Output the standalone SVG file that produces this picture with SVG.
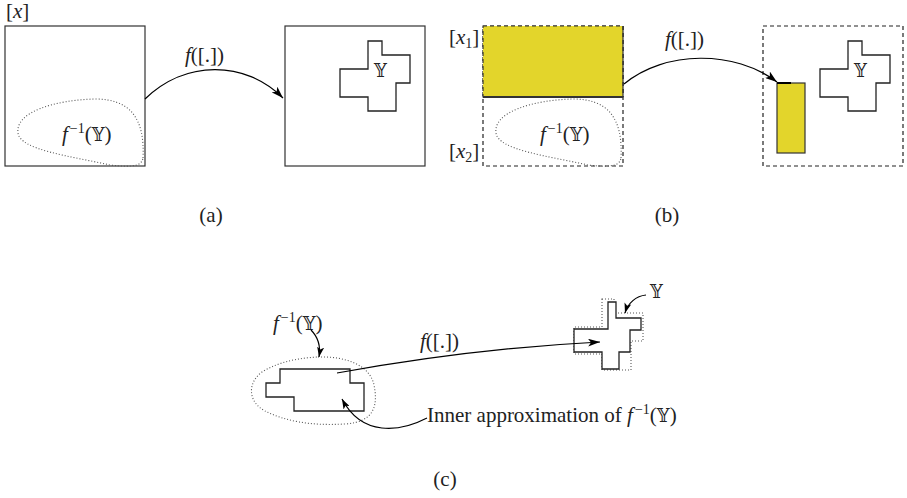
<svg xmlns="http://www.w3.org/2000/svg" width="907" height="498" viewBox="0 0 907 498">
<defs>
<marker id="ah" viewBox="0 0 12 8" refX="12" refY="4" markerWidth="12" markerHeight="8" markerUnits="userSpaceOnUse" orient="auto">
<path d="M0,0 L12,4 L0,8 L3,4 Z" fill="#000"/>
</marker>
<marker id="ahs" viewBox="0 0 10 7" refX="10" refY="3.5" markerWidth="10" markerHeight="7" markerUnits="userSpaceOnUse" orient="auto">
<path d="M0,0 L10,3.5 L0,7 L2.5,3.5 Z" fill="#000"/>
</marker>
</defs>
<style>
text{font-family:"Liberation Serif","DejaVu Serif",serif;font-size:21px;fill:#222}
.it{font-style:italic}
.sup{font-size:14px}
.sub{font-size:14px}
.dbl{font-family:"DejaVu Serif","DejaVu Sans",serif;font-size:18px}
.box{fill:none;stroke:#333;stroke-width:1.2}
.dash{fill:none;stroke:#222;stroke-width:1.2;stroke-dasharray:4 3}
.dot{fill:none;stroke:#555;stroke-width:1.1;stroke-dasharray:1 2}
.shape{fill:#fff;stroke:#222;stroke-width:1.3}
.yel{fill:#E3D52B;stroke:#333;stroke-width:1.2}
.conn{fill:none;stroke:#000;stroke-width:1.2}
</style>
<rect width="907" height="498" fill="#fff"/>

<!-- Panel (a) -->
<g id="a-box-x">
<text x="6" y="18">[<tspan class="it">x</tspan>]</text>
<rect class="box" x="5" y="26" width="140" height="140"/>
<path class="dot" d="M143,158 C145,118 130,99 95,99 C55,100 15,112 18,133 C20,150 70,156 110,165 C135,168 142,165 143,158 Z"/>
<text x="62" y="141"><tspan class="it">f</tspan><tspan class="sup" dx="2" dy="-8">−1</tspan><tspan dy="8">(</tspan><tspan class="dbl">𝕐</tspan>)</text>
</g>
<g id="a-box-y">
<rect class="box" x="285" y="26" width="140" height="140"/>
<polygon class="shape" points="368,41 382,41 382,55 410,55 410,83 396,83 396,111 368,111 368,97 340,97 340,69 368,69"/>
<text class="dbl" x="374" y="77">𝕐</text>
</g>
<g id="a-label"><text x="211" y="222" text-anchor="middle">(a)</text></g>

<!-- Panel (b) -->
<g id="b-box-x">
<rect class="dash" x="483" y="26" width="140" height="140"/>
<rect class="yel" x="483" y="26" width="140" height="71" stroke-dasharray="4 3"/>
<line x1="483" y1="97" x2="623" y2="97" stroke="#333" stroke-width="2"/>
<line x1="623" y1="26" x2="623" y2="97" stroke="#333" stroke-width="1.2"/>
<text x="449" y="44">[<tspan class="it">x</tspan><tspan class="sub" dy="4">1</tspan><tspan dy="-4">]</tspan></text>
<text x="449" y="158">[<tspan class="it">x</tspan><tspan class="sub" dy="4">2</tspan><tspan dy="-4">]</tspan></text>
<path class="dot" d="M621,158 C623,118 608,99 573,99 C533,100 493,112 496,133 C498,150 548,156 588,165 C613,168 620,165 621,158 Z"/>
<text x="540" y="141"><tspan class="it">f</tspan><tspan class="sup" dx="2" dy="-8">−1</tspan><tspan dy="8">(</tspan><tspan class="dbl">𝕐</tspan>)</text>
</g>
<g id="b-box-y">
<rect class="dash" x="763" y="26" width="140" height="140"/>
<rect class="yel" x="777" y="83" width="28" height="70"/>
<line x1="777" y1="83" x2="791" y2="83" stroke="#000" stroke-width="2"/>
<polygon class="shape" points="848,41 862,41 862,55 890,55 890,83 876,83 876,111 848,111 848,97 820,97 820,69 848,69"/>
<text class="dbl" x="854" y="77">𝕐</text>
</g>
<g id="b-label"><text x="667" y="222" text-anchor="middle">(b)</text></g>

<!-- Panel (c) -->
<g id="c-preimage">
<path class="dot" d="M318,357 C345,356 370,365 374,385 C378,405 375,422 345,424 C310,426 285,421 265,411 C248,402 247,383 262,372 C280,361 300,358 318,357 Z"/>
<polygon class="shape" points="280,369 350,369 350,383 364,383 364,411 294,411 294,397 266,397 266,383 280,383"/>
<text x="273" y="330"><tspan class="it">f</tspan><tspan class="sup" dx="2" dy="-8">−1</tspan><tspan dy="8">(</tspan><tspan class="dbl">𝕐</tspan>)</text>
</g>
<g id="c-image">
<polygon class="dot" points="602,299 614,299 614,313 643,313 643,341 631,341 631,370 602,370 602,354 574,354 574,327 602,327"/>
<polygon class="shape" fill="none" points="608,302 616,302 616,318 641,318 641,330 630,330 630,352 619,352 619,369 602,369 602,352 574,352 574,329 608,329"/>
<text class="dbl" x="650" y="298">𝕐</text>
</g>
<g id="c-inner-label">
<text x="427" y="422">Inner approximation of <tspan class="it">f</tspan><tspan class="sup" dx="2" dy="-8">−1</tspan><tspan dy="8">(</tspan><tspan class="dbl">𝕐</tspan>)</text>
</g>
<g id="c-label"><text x="445" y="486" text-anchor="middle">(c)</text></g>

<!-- Connectors -->
<g id="connectors">
<path class="conn" d="M145,99 C185,60 245,60 283,98" marker-end="url(#ah)"/>
<text x="185" y="62"><tspan class="it">f</tspan>([.])</text>
<path class="conn" d="M624,84 C665,50 735,50 777,82" marker-end="url(#ah)"/>
<text x="665" y="46"><tspan class="it">f</tspan>([.])</text>
<path class="conn" d="M337,373 C420,358 500,347 600,342" marker-end="url(#ah)"/>
<text x="420" y="348"><tspan class="it">f</tspan>([.])</text>
<path class="conn" d="M311,330 C318,337 321,345 319,357" marker-end="url(#ahs)"/>
<path class="conn" d="M646,295 C636,296 628,303 625,313" marker-end="url(#ahs)"/>
<path class="conn" d="M427,418 C400,432 362,437 342,399" marker-end="url(#ahs)"/>
</g>
</svg>
